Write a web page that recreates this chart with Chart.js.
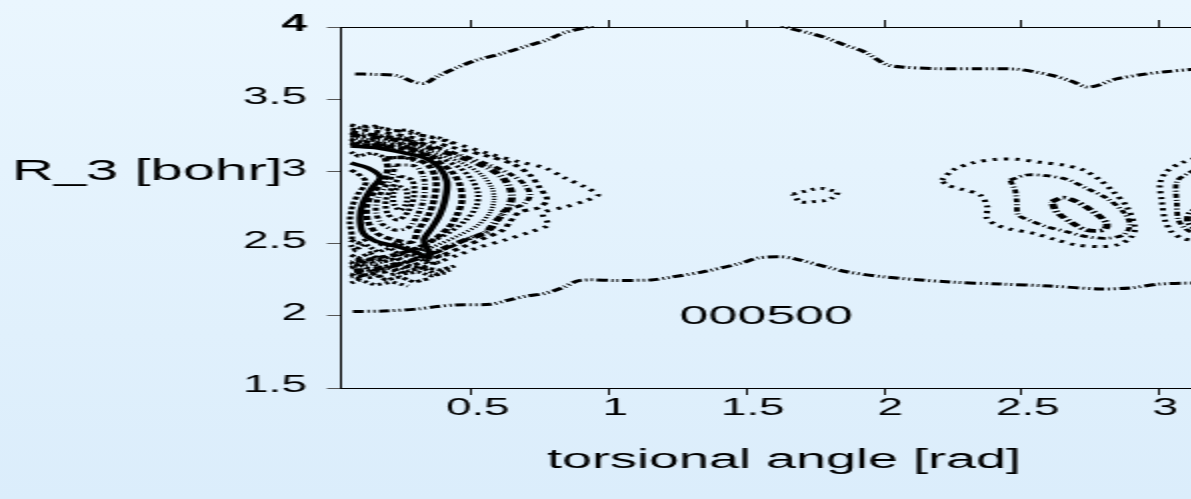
<!DOCTYPE html>
<html><head><meta charset="utf-8">
<script src="https://cdn.jsdelivr.net/npm/chart.js@4.4.1/dist/chart.umd.min.js"></script>
<style>
html,body{margin:0;padding:0;width:1191px;height:499px;overflow:hidden;background:linear-gradient(#eaf6fe,#dbedfb);}
#wrap{position:absolute;left:0;top:0;width:620px;height:499px;transform:scaleX(2);transform-origin:0 0;}
canvas{display:block;}
</style></head><body>
<div id="wrap"><canvas id="c" width="620" height="499"></canvas></div>
<script>
// ---------- data ----------
const xTickValues = [0.5, 1, 1.5, 2, 2.5, 3];
const xTickLabels = ['0.5', '1', '1.5', '2', '2.5', '3'];
const yTickValues = [1.5, 2, 2.5, 3, 3.5, 4];
const yTickLabels = ['1.5', '2', '2.5', '3', '3.5', '4'];
const xRange = [0.0209, 3.25];
const yRange = [1.5, 4];
const xTitle = 'torsional angle [rad]';
const yTitle = 'R_3 [bohr]';
const frameLabel = '000500';
const frameLabelPos = [1.571, 1.99];

const contourTop = [[0.076,3.675],[0.141,3.672],[0.229,3.663],[0.287,3.621],[0.330,3.610],[0.373,3.656],[0.445,3.718],[0.519,3.771],[0.614,3.818],[0.712,3.875],[0.774,3.910],[0.832,3.958],[0.919,3.998],[1.05,4.06],[1.35,4.10],[1.58,4.04],[1.658,3.99],[1.734,3.955],[1.788,3.925],[1.857,3.875],[1.926,3.83],[2.008,3.74],[2.063,3.723],[2.199,3.711],[2.337,3.711],[2.474,3.709],[2.543,3.691],[2.610,3.665],[2.679,3.626],[2.735,3.585],[2.776,3.595],[2.843,3.64],[2.954,3.675],[3.023,3.69],[3.116,3.705],[3.25,3.71]];
const contourBottom = [[0.068,2.03],[0.180,2.033],[0.308,2.048],[0.374,2.064],[0.439,2.075],[0.569,2.080],[0.634,2.109],[0.699,2.137],[0.763,2.154],[0.828,2.193],[0.894,2.245],[1.024,2.245],[1.153,2.248],[1.217,2.265],[1.348,2.307],[1.478,2.364],[1.543,2.401],[1.621,2.409],[1.672,2.396],[1.803,2.332],[1.868,2.303],[1.998,2.270],[2.239,2.234],[2.421,2.220],[2.603,2.206],[2.785,2.186],[2.894,2.193],[3.003,2.220],[3.116,2.227],[3.25,2.23]];
const contourSmall = [[1.668,2.843],[1.700,2.857],[1.716,2.864],[1.741,2.876],[1.774,2.882],[1.803,2.871],[1.831,2.855],[1.809,2.814],[1.782,2.797],[1.748,2.792],[1.724,2.786],[1.694,2.790],[1.668,2.843]];

const contourR1 = [[2.209,2.940],[2.251,3.010],[2.324,3.060],[2.409,3.084],[2.482,3.084],[2.567,3.063],[2.651,3.044],[2.724,3.010],[2.785,2.940],[2.833,2.859],[2.882,2.756],[2.912,2.606],[2.894,2.537],[2.845,2.490],[2.785,2.479],[2.700,2.490],[2.627,2.525],[2.542,2.571],[2.457,2.601],[2.409,2.629],[2.373,2.675],[2.375,2.756],[2.348,2.837],[2.282,2.876],[2.227,2.906],[2.209,2.940]];
const contourR2 = [[2.457,2.940],[2.518,2.975],[2.591,2.970],[2.664,2.945],[2.736,2.883],[2.809,2.814],[2.869,2.721],[2.894,2.629],[2.869,2.560],[2.809,2.537],[2.736,2.548],[2.664,2.582],[2.591,2.617],[2.530,2.659],[2.488,2.698],[2.482,2.790],[2.476,2.871],[2.457,2.940]];
const contourR3 = [[2.609,2.790],[2.651,2.818],[2.700,2.790],[2.760,2.721],[2.809,2.641],[2.797,2.594],[2.736,2.594],[2.676,2.652],[2.627,2.721],[2.609,2.790]];
const contourF1 = [[3.25,3.12],[3.185,3.114],[3.082,3.060],[3.027,2.998],[3.003,2.918],[3.009,2.802],[3.021,2.663],[3.045,2.582],[3.082,2.537],[3.112,2.525],[3.185,2.511],[3.25,2.51]];
const contourF2 = [[3.25,3.05],[3.185,3.044],[3.106,2.987],[3.064,2.929],[3.064,2.779],[3.070,2.663],[3.094,2.606],[3.116,2.582],[3.185,2.566],[3.25,2.56]];
const contourF3 = [[3.20,2.80],[3.167,2.767],[3.112,2.712],[3.105,2.650],[3.131,2.608],[3.19,2.59]];

const contourK1 = [[0.06,3.321],[0.167,3.301],[0.294,3.259],[0.421,3.204],[0.566,3.121],[0.675,3.065],[0.766,3.024],[0.839,2.954],[0.912,2.892],[0.959,2.837],[0.912,2.795],[0.839,2.753],[0.759,2.712],[0.777,2.629],[0.712,2.580],[0.621,2.525],[0.530,2.476],[0.450,2.421],[0.348,2.352],[0.239,2.296],[0.148,2.269],[0.06,2.248]];
const contourK2 = [[0.06,3.294],[0.167,3.273],[0.312,3.224],[0.439,3.162],[0.556,3.107],[0.650,3.051],[0.712,2.975],[0.748,2.885],[0.774,2.802],[0.741,2.747],[0.675,2.719],[0.639,2.650],[0.614,2.594],[0.548,2.539],[0.475,2.483],[0.384,2.414],[0.276,2.345],[0.167,2.296],[0.06,2.269]];
const contourK3 = [[0.06,3.273],[0.185,3.245],[0.330,3.190],[0.457,3.114],[0.566,3.044],[0.646,2.975],[0.694,2.906],[0.712,2.830],[0.683,2.767],[0.621,2.733],[0.596,2.663],[0.566,2.594],[0.494,2.539],[0.421,2.476],[0.312,2.400],[0.203,2.338],[0.06,2.289]];
const contourK4 = [[0.06,3.252],[0.203,3.225],[0.348,3.162],[0.465,3.093],[0.559,3.024],[0.614,2.954],[0.639,2.885],[0.646,2.816],[0.628,2.733],[0.585,2.650],[0.548,2.573],[0.475,2.525],[0.384,2.456],[0.276,2.380],[0.167,2.331],[0.06,2.310]];
const contourK5 = [[0.06,3.231],[0.221,3.204],[0.355,3.134],[0.465,3.058],[0.537,2.975],[0.574,2.885],[0.581,2.802],[0.566,2.712],[0.523,2.629],[0.457,2.560],[0.366,2.483],[0.257,2.407],[0.148,2.359],[0.06,2.331]];
const contourK6 = [[0.06,3.211],[0.232,3.183],[0.366,3.107],[0.457,3.024],[0.501,2.940],[0.523,2.850],[0.516,2.753],[0.479,2.663],[0.421,2.580],[0.341,2.504],[0.239,2.428],[0.137,2.380],[0.06,2.352]];
const contourK7 = [[0.06,3.190],[0.239,3.162],[0.355,3.093],[0.428,2.996],[0.457,2.906],[0.465,2.802],[0.450,2.712],[0.421,2.622],[0.370,2.539],[0.312,2.476],[0.232,2.428],[0.130,2.393],[0.06,2.373]];
const contourS = [[0.06,3.176],[0.159,3.162],[0.257,3.127],[0.330,3.093],[0.384,3.024],[0.410,2.927],[0.403,2.802],[0.384,2.698],[0.355,2.608],[0.326,2.525],[0.341,2.456],[0.348,2.400],[0.294,2.442],[0.221,2.483],[0.148,2.518],[0.105,2.573],[0.094,2.677],[0.105,2.781],[0.137,2.885],[0.167,2.961],[0.123,3.024],[0.06,3.058]];
const contourI1 = [[0.185,3.093],[0.276,3.093],[0.341,3.044],[0.370,2.940],[0.363,2.802],[0.341,2.691],[0.305,2.594],[0.283,2.511],[0.221,2.525],[0.159,2.566],[0.123,2.650],[0.119,2.767],[0.145,2.857],[0.181,2.940],[0.195,3.024],[0.185,3.093]];
const contourI2 = [[0.221,3.044],[0.294,3.037],[0.326,2.954],[0.326,2.816],[0.305,2.705],[0.268,2.608],[0.221,2.594],[0.174,2.636],[0.152,2.719],[0.159,2.816],[0.188,2.899],[0.210,2.968],[0.221,3.044]];
const contourI3 = [[0.239,2.968],[0.283,2.940],[0.290,2.830],[0.268,2.719],[0.232,2.663],[0.195,2.705],[0.188,2.802],[0.210,2.885],[0.239,2.968]];
const contourI4 = [[0.236,2.90],[0.262,2.87],[0.262,2.78],[0.240,2.73],[0.218,2.77],[0.216,2.85],[0.236,2.90]];
const contourL = [[0.06,3.010],[0.087,2.982],[0.116,2.927],[0.087,2.844],[0.065,2.753],[0.057,2.650],[0.065,2.546],[0.06,2.511]];
const contourE1 = [[0.06,2.490],[0.076,2.456],[0.112,2.497],[0.159,2.442],[0.203,2.470],[0.247,2.414],[0.294,2.421],[0.341,2.359],[0.385,2.373]];
const contourE2 = [[0.06,2.421],[0.087,2.400],[0.130,2.435],[0.174,2.373],[0.225,2.400],[0.276,2.345],[0.327,2.331],[0.385,2.317],[0.439,2.345]];
const contourE3 = [[0.06,2.331],[0.094,2.359],[0.145,2.303],[0.196,2.331],[0.247,2.289],[0.305,2.303],[0.355,2.276],[0.403,2.296]];
const contourE4 = [[0.06,3.266],[0.094,3.238],[0.148,3.259],[0.203,3.217],[0.257,3.231],[0.312,3.183],[0.356,3.162]];
const contourE5 = [[0.06,3.224],[0.087,3.197],[0.137,3.217],[0.188,3.176],[0.239,3.190],[0.290,3.148]];
const contourE6 = [[0.06,3.321],[0.094,3.301],[0.148,3.314],[0.210,3.280],[0.268,3.287],[0.330,3.245],[0.384,3.231],[0.439,3.190]];
const contourE7 = [[0.06,3.197],[0.101,3.169],[0.159,3.190],[0.217,3.148],[0.276,3.162],[0.330,3.121],[0.377,3.093]];
const contourE8 = [[0.06,3.134],[0.087,3.107],[0.137,3.127],[0.196,3.093],[0.254,3.100],[0.305,3.065]];
const contourE9 = [[0.06,2.525],[0.087,2.504],[0.130,2.539],[0.181,2.483],[0.232,2.504],[0.283,2.456],[0.334,2.463],[0.384,2.414],[0.428,2.428]];
const contourE10 = [[0.06,2.373],[0.080,2.352],[0.123,2.386],[0.167,2.331],[0.217,2.359],[0.268,2.310],[0.319,2.331],[0.370,2.289],[0.421,2.317]];
const contourE11 = [[0.06,2.289],[0.087,2.269],[0.137,2.296],[0.188,2.248],[0.239,2.269],[0.290,2.234],[0.341,2.255]];
const contourE12 = [[0.06,2.227],[0.094,2.248],[0.148,2.213],[0.210,2.234],[0.268,2.206]];

// ---------- styles (kept apart from data) ----------
const FONT = "'Liberation Sans', Arial, Helvetica, sans-serif";
const dashDotDot = [5.5,1.8,1,1.8,1,1.8];
const lines = [
  [contourTop, dashDotDot, 3, 0.3],
  [contourBottom, dashDotDot, 3, 0.3],
  [contourSmall, [2,3], 3, 0.3],
  [contourR1, [2.2,3.5], 3, 0.3],
  [contourR2, [4,2,1,2], 2.8, 0.3],
  [contourR3, [5,2,1.5,2], 3.8, 0.3],
  [contourF1, [2.2,3.5], 3, 0.3],
  [contourF2, [4,2,1,2], 2.8, 0.3],
  [contourF3, [5,2,1.5,2], 3.8, 0.3],
  [contourK1, [2.2,3.8], 3, 0.3],
  [contourK2, [3,3], 3, 0.3],
  [contourK3, [4,2,1,2], 3, 0.3],
  [contourK4, [5,2,1,2], 4, 0.3],
  [contourK5, [1.2,1.5], 2.5, 0.3],
  [contourK6, [2,2], 3, 0.3],
  [contourK7, [4,2], 3.5, 0.3],
  [contourS, [], 3.5, 0.3],
  [contourI1, [4,2], 3.5, 0.3],
  [contourI2, [3,2,1,2], 3, 0.3],
  [contourI3, [2.5,2], 3, 0.3],
  [contourI4, [2,2], 3, 0.3],
  [contourL, [3,2], 3, 0.3],
  [contourE1, [2,1.5], 3, 0],
  [contourE2, [2.5,1.5], 3, 0],
  [contourE3, [2,1.5], 3, 0],
  [contourE4, [2,1.5], 3, 0],
  [contourE5, [2.5,1.5], 3, 0],
  [contourE6, [2,2], 3, 0],
  [contourE7, [2.5,1.5], 3, 0],
  [contourE8, [2,1.5], 3, 0],
  [contourE9, [2.5,1.5], 3, 0],
  [contourE10, [2,1.5], 3, 0],
  [contourE11, [2.5,1.5], 3, 0],
  [contourE12, [2,2], 3, 0]
];

const datasets = lines.map(([d, dash, w, t]) => ({
  data: d, showLine: true, pointRadius: 0, pointHoverRadius: 0,
  borderColor: '#000', borderWidth: w, borderDash: dash, tension: t,
  fill: false, clip: 1
}));

const textPlugin = {
  id: 'texts',
  afterDatasetsDraw(chart) {
    const {ctx, scales} = chart;
    ctx.save();
    ctx.fillStyle = '#000';
    ctx.font = `26px ${FONT}`;
    ctx.textAlign = 'center';
    ctx.textBaseline = 'middle';
    ctx.fillText(frameLabel, scales.x.getPixelForValue(frameLabelPos[0]), scales.y.getPixelForValue(frameLabelPos[1]));
    ctx.font = `29px ${FONT}`;
    ctx.textAlign = 'left';
    ctx.fillText(yTitle, 6, scales.y.getPixelForValue(3) + 1);
    ctx.restore();
  }
};

const setTicks = (vals) => (axis) => { axis.ticks = vals.map(v => ({value: v})); };
const labelOf = (vals, labs) => (v) => { const i = vals.indexOf(v); return i >= 0 ? labs[i] : ''; };

new Chart(document.getElementById('c'), {
  type: 'scatter',
  data: { datasets },
  plugins: [textPlugin],
  options: {
    responsive: false, animation: false, devicePixelRatio: 1,
    layout: { padding: { left: 0, right: 6, top: 0, bottom: 0 } },
    plugins: { legend: { display: false }, tooltip: { enabled: false } },
    scales: {
      x: {
        type: 'linear', position: 'bottom', min: xRange[0], max: xRange[1],
        afterBuildTicks: setTicks(xTickValues),
        afterFit: (s) => { s.height = 111; },
        ticks: { callback: labelOf(xTickValues, xTickLabels), color: '#000', font: { family: FONT, size: 23 }, padding: 0, labelOffset: 3, maxRotation: 0, autoSkip: false },
        grid: { drawOnChartArea: false, drawTicks: true, tickLength: 7, tickWidth: 1, tickColor: '#111' },
        border: { display: true, color: '#000', width: 1 },
        title: { display: true, text: xTitle, color: '#000', font: { family: FONT, size: 27 }, padding: { top: 0, bottom: 22 } }
      },
      x2: {
        type: 'linear', position: 'top', axis: 'x', min: xRange[0], max: xRange[1],
        afterBuildTicks: setTicks(xTickValues),
        afterFit: (s) => { s.height = 27; },
        ticks: { display: false },
        grid: { drawOnChartArea: false, drawTicks: true, tickLength: 7, tickWidth: 1, tickColor: '#111' },
        border: { display: true, color: '#000', width: 1 }
      },
      y: {
        type: 'linear', position: 'left', min: yRange[0], max: yRange[1],
        afterBuildTicks: setTicks(yTickValues),
        afterFit: (s) => { s.width = 170; },
        ticks: {
          callback: labelOf(yTickValues, yTickLabels), color: '#000', padding: 10, labelOffset: -2, autoSkip: false,
          font: (c) => ({ family: FONT, size: 23, weight: (c.tick && c.tick.value === 4) ? 'bold' : 'normal' })
        },
        grid: { drawOnChartArea: false, drawTicks: true, tickLength: 6.5, tickWidth: 1, tickColor: '#555' },
        border: { display: true, color: '#000', width: 1 }
      }
    }
  }
});
</script>
</body></html>
